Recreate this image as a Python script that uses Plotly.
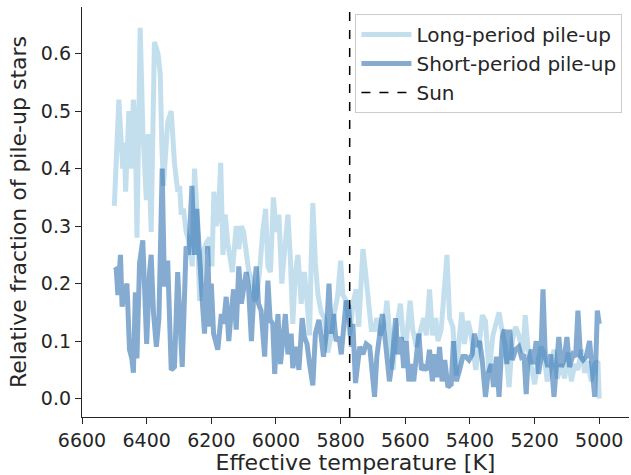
import plotly.graph_objects as go

# Long-period pile-up (Teff [K], relative fraction)
long_teff = [6500,6486,6474,6469,6465,6455,6448,6441,6435,6430,
             6420,6412,6401,6395,6386,6376,6365,6358,6353,6348,
             6335,6324,6314,6304,6298,6293,6286,6278,6267,6259,
             6252,6245,6236,6228,6216,6205,6198,6192,6185,6178,
             6171,6164,6157,6149,6135,6123,6115,6107,6100,6092,
             6084,6076,6066,6059,6051,6041,6032,6025,6017,6008,
             5999,5991,5982,5973,5963,5956,5948,5940,5932,5922,
             5912,5904,5896,5891,5886,5878,5870,5860,5850,5840,
             5829,5819,5809,5800,5793,5783,5772,5762,5752,5744,
             5731,5723,5713,5705,5695,5688,5677,5664,5657,5649,
             5638,5628,5615,5607,5597,5585,5577,5566,5556,5543,
             5535,5525,5516,5506,5499,5489,5471,5463,5453,5442,
             5434,5425,5417,5406,5396,5382,5372,5362,5352,5341,
             5329,5318,5310,5298,5290,5279,5269,5259,5249,5236,
             5229,5221,5210,5200,5192,5181,5171,5161,5150,5140,
             5130,5117,5107,5097,5086,5076,5066,5055,5045,5035,
             5025,5014,5004,5000]
long_frac = [0.335,0.52,0.40,0.445,0.36,0.50,0.40,0.52,0.47,0.28,
             0.645,0.47,0.345,0.46,0.29,0.62,0.60,0.565,0.44,0.37,
             0.48,0.50,0.41,0.36,0.37,0.32,0.33,0.29,0.27,0.23,
             0.40,0.33,0.17,0.25,0.27,0.28,0.23,0.36,0.30,0.32,
             0.41,0.25,0.32,0.27,0.22,0.30,0.26,0.30,0.29,0.25,
             0.22,0.21,0.17,0.18,0.22,0.29,0.33,0.23,0.22,0.35,
             0.29,0.32,0.20,0.26,0.32,0.25,0.13,0.22,0.25,0.165,
             0.22,0.17,0.11,0.24,0.34,0.235,0.18,0.15,0.14,0.08,
             0.11,0.15,0.18,0.24,0.18,0.17,0.11,0.165,0.19,0.125,
             0.26,0.22,0.15,0.12,0.12,0.14,0.11,0.13,0.17,0.11,
             0.05,0.12,0.165,0.11,0.10,0.17,0.12,0.09,0.11,0.14,
             0.11,0.19,0.11,0.14,0.10,0.12,0.25,0.14,0.125,0.04,
             0.10,0.15,0.095,0.135,0.11,0.05,0.09,0.145,0.135,0.045,
             0.11,0.135,0.15,0.11,0.09,0.02,0.10,0.125,0.11,0.08,
             0.145,0.09,0.055,0.025,0.055,0.09,0.08,0.03,0.055,0.085,
             0.035,0.06,0.035,0.08,0.03,0.06,0.05,0.085,0.045,0.065,
             0.03,0.06,0.065,0.00]

# Short-period pile-up
short_teff = [6500,6494,6489,6481,6476,6469,6461,6453,6446,6441,
              6435,6430,6422,6412,6407,6400,6391,6386,6379,6370,
              6362,6352,6345,6335,6324,6314,6304,6290,6278,6270,
              6260,6252,6245,6236,6228,6221,6211,6205,6200,6193,
              6180,6169,6162,6154,6146,6138,6131,6123,6115,6107,
              6100,6092,6085,6076,6069,6061,6054,6046,6035,6025,
              6018,6010,6004,5994,5986,5979,5971,5963,5953,5948,
              5937,5929,5919,5912,5904,5896,5886,5878,5867,5860,
              5853,5844,5836,5829,5822,5814,5805,5798,5791,5783,
              5775,5767,5762,5754,5741,5731,5721,5710,5702,5695,
              5688,5680,5671,5664,5657,5649,5640,5630,5623,5612,
              5605,5597,5589,5581,5574,5566,5558,5550,5542,5533,
              5525,5516,5509,5501,5494,5486,5478,5468,5458,5451,
              5442,5432,5422,5413,5403,5393,5386,5378,5370,5362,
              5352,5344,5334,5327,5318,5310,5300,5293,5286,5277,
              5269,5259,5249,5241,5233,5226,5221,5210,5205,5195,
              5188,5181,5174,5167,5159,5150,5140,5133,5125,5117,
              5109,5100,5092,5081,5073,5066,5058,5050,5040,5030,
              5023,5014,5006,5000]
short_frac = [0.223,0.225,0.18,0.25,0.16,0.18,0.20,0.085,0.07,0.045,
              0.185,0.07,0.235,0.275,0.195,0.095,0.22,0.25,0.15,0.09,
              0.14,0.40,0.195,0.24,0.05,0.055,0.22,0.055,0.265,0.25,
              0.37,0.25,0.33,0.26,0.17,0.113,0.265,0.125,0.20,0.113,
              0.085,0.147,0.13,0.177,0.10,0.153,0.19,0.12,0.23,0.165,
              0.19,0.22,0.195,0.10,0.177,0.23,0.165,0.153,0.073,0.205,
              0.137,0.13,0.043,0.147,0.06,0.107,0.147,0.077,0.113,0.053,
              0.09,0.05,0.14,0.107,0.095,0.06,0.023,0.113,0.137,0.107,
              0.073,0.113,0.20,0.113,0.147,0.10,0.107,0.077,0.12,0.17,
              0.16,0.09,0.13,0.027,0.09,0.077,0.095,0.09,0.043,0.003,
              0.073,0.107,0.147,0.113,0.067,0.03,0.067,0.14,0.077,0.107,
              0.053,0.10,0.03,0.06,0.03,0.077,0.113,0.05,0.055,0.05,
              0.085,0.03,0.077,0.037,0.09,0.03,0.067,0.02,0.025,0.10,
              0.03,0.05,0.073,0.073,0.067,0.077,0.113,0.09,0.10,0.067,
              0.003,0.043,0.06,0.02,0.073,0.003,0.107,0.12,0.06,0.12,
              0.067,0.085,0.09,0.073,0.077,0.008,0.06,0.085,0.06,0.10,
              0.043,0.067,0.19,0.073,0.055,0.077,0.003,0.055,0.107,0.055,
              0.067,0.107,0.055,0.077,0.073,0.153,0.073,0.067,0.073,0.10,
              0.055,0.003,0.153,0.13]

sun_teff = 5772
x_ticks = [6600, 6400, 6200, 6000, 5800, 5600, 5400, 5200, 5000]
y_ticks = [0.0, 0.1, 0.2, 0.3, 0.4, 0.5, 0.6]

assert len(long_teff) == len(long_frac)
assert len(short_teff) == len(short_frac)

TXT = "#262626"
FONT = "DejaVu Sans"

fig = go.Figure()
fig.add_trace(go.Scatter(x=long_teff, y=long_frac, mode="lines",
                         name="Long-period pile-up", legendgroup="a",
                         line=dict(color="rgba(146,197,222,0.55)", width=5)))
fig.add_trace(go.Scatter(x=short_teff, y=short_frac, mode="lines",
                         name="Short-period pile-up", legendgroup="b",
                         line=dict(color="rgba(33,102,172,0.55)", width=5)))
fig.add_trace(go.Scatter(x=[None], y=[None], mode="lines", name="Sun",
                         legendgroup="c",
                         line=dict(color="black", width=1.5, dash="dash")))

fig.add_shape(type="line", x0=sun_teff, x1=sun_teff, xref="x",
              y0=0, y1=1, yref="paper",
              line=dict(color="black", width=1.5, dash="dash"))

fig.update_layout(
    width=631, height=475,
    margin=dict(l=82, r=2, t=7, b=58),
    paper_bgcolor="white", plot_bgcolor="white",
    font=dict(family=FONT, color=TXT, size=19),
    showlegend=True,
    legend=dict(x=0.988, y=0.983, xanchor="right", yanchor="top",
                bgcolor="rgba(255,255,255,0.8)", bordercolor="#cccccc",
                borderwidth=1, font=dict(size=20, family=FONT, color=TXT),
                traceorder="grouped", tracegroupgap=0, itemwidth=50),
    xaxis=dict(range=[6600, 4908], tickvals=x_ticks,
               ticktext=[str(v) for v in x_ticks],
               showgrid=False, zeroline=False, showline=True,
               linecolor=TXT, linewidth=1.25, ticks="outside",
               ticklen=6, tickwidth=1.25, tickcolor=TXT,
               tickfont=dict(size=19, family=FONT, color=TXT),
               title=dict(text="Effective temperature [K]",
                          font=dict(size=22, family=FONT, color=TXT),
                          standoff=4)),
    yaxis=dict(range=[-0.032, 0.681], tickvals=y_ticks,
               ticktext=["%.1f" % v for v in y_ticks],
               showgrid=False, zeroline=False, showline=True,
               linecolor=TXT, linewidth=1.25, ticks="outside",
               ticklen=6, tickwidth=1.25, tickcolor=TXT,
               tickfont=dict(size=19, family=FONT, color=TXT),
               title=dict(text="Relative fraction of pile-up stars",
                          font=dict(size=22, family=FONT, color=TXT),
                          standoff=8)),
)

fig.write_html("out.html")
